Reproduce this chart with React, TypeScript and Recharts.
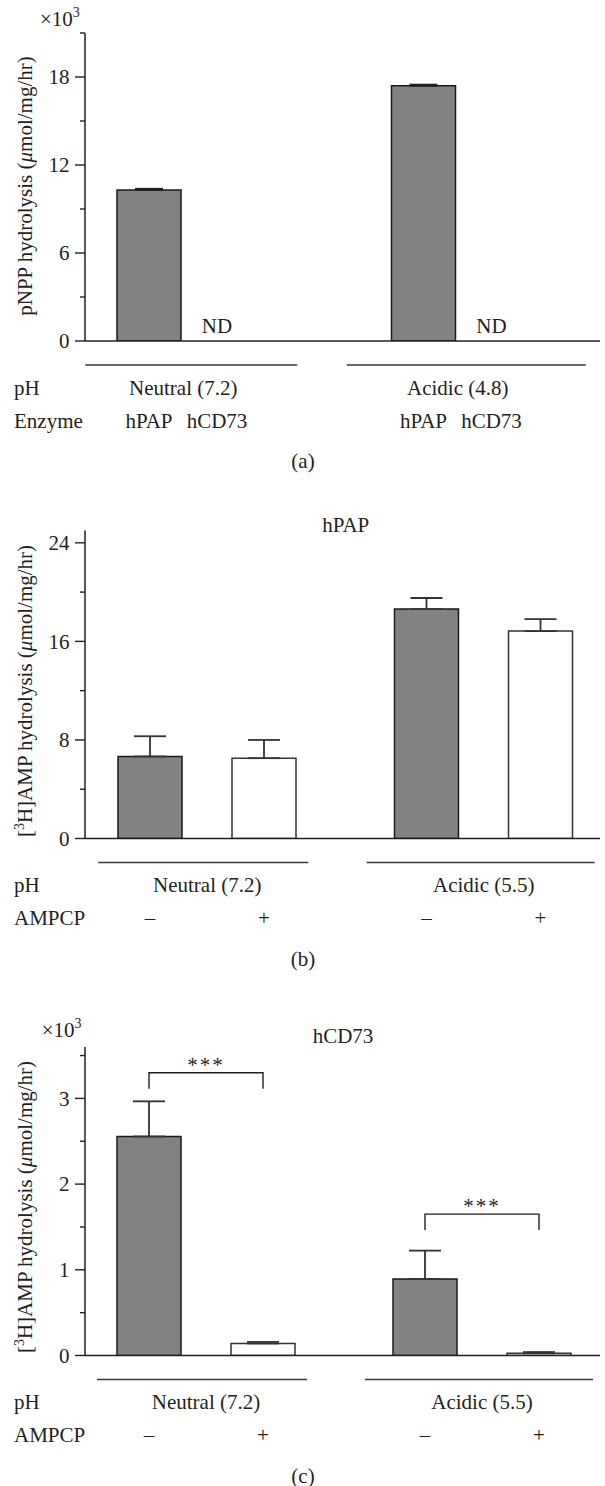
import { BarChart, Bar, XAxis, YAxis, ErrorBar, LabelList } from 'recharts'

const FONT = "'Liberation Serif', 'Times New Roman', serif"
const INK = '#231f20'
const GRAY = '#818281'
const FS = 21

// (a) pNPP hydrolysis (x10^3 umol/mg/hr)
const phA = ['Neutral (7.2)', 'Acidic (4.8)']
const hpapA = [10.3, 17.4]
const hpapErrA = [0.08, 0.08]
const hcd73A = [0, 0] // ND
const ticksA = [0, 3, 6, 9, 12, 15, 18, 21]

// (b) hPAP, [3H]AMP hydrolysis
const phB = ['Neutral (7.2)', 'Acidic (5.5)']
const noAmpcpB = [6.66, 18.62]
const noAmpcpErrB = [1.64, 0.9]
const ampcpB = [6.52, 16.84]
const ampcpErrB = [1.48, 0.97]
const ticksB = [0, 4, 8, 12, 16, 20, 24]

// (c) hCD73, [3H]AMP hydrolysis (x10^3)
const phC = ['Neutral (7.2)', 'Acidic (5.5)']
const noAmpcpC = [2.556, 0.894]
const noAmpcpErrC = [0.41, 0.33]
const ampcpC = [0.14, 0.026]
const ampcpErrC = [0.018, 0.014]
const sigBracketC = [3.3, 1.65]
const sigTextC = ['***', '***']
const ticksC = [0, 0.5, 1, 1.5, 2, 2.5, 3, 3.5]

const dataA = phA.map((ph, i) => ({
  ph,
  hpap: hpapA[i],
  hpapErr: [0, hpapErrA[i]],
  hcd73: hcd73A[i],
}))
const dataB = phB.map((ph, i) => ({
  ph,
  minus: noAmpcpB[i],
  minusErr: [0, noAmpcpErrB[i]],
  plus: ampcpB[i],
  plusErr: [0, ampcpErrB[i]],
}))
const dataC = phC.map((ph, i) => ({
  ph,
  minus: noAmpcpC[i],
  minusErr: [0, noAmpcpErrC[i]],
  plus: ampcpC[i],
  plusErr: [0, ampcpErrC[i]],
  sig: sigBracketC[i],
}))

// layout
const W = 605
const AXIS_X = 85
const LINE_DY = 24
const ROW1 = 53.5
const ROW2 = 86.5
const PANEL_A = { top: 0, height: 480, plotTop: 33, plotBottom: 341 }
const PANEL_B = { top: 490, height: 490, plotTop: 530.5, plotBottom: 838.5 }
const PANEL_C = { top: 990, height: 496, plotTop: 1047, plotBottom: 1355.5 }
const spansA = [[-98, 114], [-111, 128]]
const spansBC = [[-109, 101], [-117, 111]]

const textProps = { fontFamily: FONT, fontSize: FS, fill: INK }
const axisLine = { stroke: INK, strokeWidth: 1.5 }

function YTick(props: any) {
  const { y, payload, step } = props
  const major = Math.abs(payload.value % step) < 1e-9
  return (
    <g>
      <line x1={AXIS_X - (major ? 10 : 5)} x2={AXIS_X} y1={y} y2={y} stroke={INK} strokeWidth={1.4} />
      {major && (
        <text x={AXIS_X - 15.5} y={y} dy="0.34em" textAnchor="end" {...textProps}>
          {payload.value}
        </text>
      )}
    </g>
  )
}

function GroupTick(props: any) {
  const { x, y, payload, index, spans } = props
  const [l, r] = spans[index]
  return (
    <g>
      <line x1={x + l} x2={x + r} y1={y + LINE_DY} y2={y + LINE_DY} stroke="#3a3a3a" strokeWidth={1.3} />
      <text x={x} y={y + ROW1} textAnchor="middle" {...textProps}>
        {payload.value}
      </text>
    </g>
  )
}

// label under each bar (enzyme / AMPCP row), optional text just above the baseline
const underLabel = (text: string, onTop?: string) => (props: any) => {
  const vb = props.viewBox ?? props
  const cx = vb.x + vb.width / 2
  const base = vb.y + vb.height
  return (
    <g>
      {onTop && (
        <text x={cx} y={base - 8.5} textAnchor="middle" {...textProps}>
          {onTop}
        </text>
      )}
      <text x={cx} y={base + ROW2} textAnchor="middle" {...textProps}>
        {text}
      </text>
    </g>
  )
}

function SigBracket(props: any) {
  const { x, y, width, index } = props
  const drop = 16
  return (
    <g>
      <path
        d={`M${x},${y + drop}V${y}H${x + width}V${y + drop}`}
        fill="none"
        stroke={INK}
        strokeWidth={1.4}
      />
      <text x={x + width / 2} y={y - 1} textAnchor="middle" letterSpacing={2} {...textProps}>
        {sigTextC[index]}
      </text>
    </g>
  )
}

function panelMargin(p: typeof PANEL_A) {
  return { top: p.plotTop - p.top, right: W - 600, bottom: 0, left: 0 }
}

function ChartA() {
  const p = PANEL_A
  return (
    <BarChart width={W} height={p.height} data={dataA} margin={panelMargin(p)} barSize={64} barGap={4}>
      <XAxis
        dataKey="ph"
        height={p.top + p.height - p.plotBottom}
        padding={{ left: -39, right: 5 }}
        axisLine={axisLine}
        tickLine={false}
        tickSize={0}
        tickMargin={0}
        interval={0}
        tick={(t: any) => <GroupTick {...t} spans={spansA} />}
      />
      <YAxis
        width={AXIS_X}
        domain={[0, 21]}
        ticks={ticksA}
        interval={0}
        allowDataOverflow
        axisLine={axisLine}
        tickLine={false}
        tickSize={0}
        tickMargin={0}
        tick={(t: any) => <YTick {...t} step={6} />}
      />
      <Bar dataKey="hpap" fill={GRAY} stroke="#1a1a1a" strokeWidth={1.5} isAnimationActive={false}>
        <ErrorBar dataKey="hpapErr" width={14} stroke={INK} strokeWidth={1.8} direction="y" />
        <LabelList content={underLabel('hPAP')} />
      </Bar>
      <Bar dataKey="hcd73" fill="none" stroke="none" minPointSize={1} isAnimationActive={false}>
        <LabelList content={underLabel('hCD73', 'ND')} />
      </Bar>
    </BarChart>
  )
}

function AmpcpChart({ p, data, ticks, max, step, withSig }: any) {
  const pad = withSig ? { left: -17, right: -20 } : { left: -16, right: -22 }
  return (
    <BarChart width={W} height={p.height} data={data} margin={panelMargin(p)} barSize={64} barGap={50}>
      <XAxis
        dataKey="ph"
        height={p.top + p.height - p.plotBottom}
        padding={pad}
        axisLine={axisLine}
        tickLine={false}
        tickSize={0}
        tickMargin={0}
        interval={0}
        tick={(t: any) => <GroupTick {...t} spans={spansBC} />}
      />
      {withSig && <XAxis xAxisId="sig" dataKey="ph" hide padding={pad} />}
      <YAxis
        width={AXIS_X}
        domain={[0, max]}
        ticks={ticks}
        interval={0}
        allowDataOverflow
        axisLine={axisLine}
        tickLine={false}
        tickSize={0}
        tickMargin={0}
        tick={(t: any) => <YTick {...t} step={step} />}
      />
      <Bar dataKey="minus" fill={GRAY} stroke="#1a1a1a" strokeWidth={1.5} isAnimationActive={false}>
        <ErrorBar dataKey="minusErr" width={16} stroke="#333" strokeWidth={1.8} direction="y" />
        <LabelList content={underLabel('–')} />
      </Bar>
      <Bar dataKey="plus" fill="#ffffff" stroke="#333" strokeWidth={1.5} isAnimationActive={false}>
        <ErrorBar dataKey="plusErr" width={16} stroke="#333" strokeWidth={1.8} direction="y" />
        <LabelList content={underLabel('+')} />
      </Bar>
      {withSig && (
        <Bar
          xAxisId="sig"
          dataKey="sig"
          barSize={114}
          isAnimationActive={false}
          shape={(s: any) => <SigBracket {...s} />}
        />
      )}
    </BarChart>
  )
}

function YLabel({ cy, sup }: { cy: number; sup: boolean }) {
  const x = 32
  return (
    <text x={x} y={cy} textAnchor="middle" transform={`rotate(-90 ${x} ${cy})`} {...textProps}>
      {sup ? (
        <>
          [<tspan dy={-8} fontSize={14}>3</tspan>
          <tspan dy={8}>H]AMP hydrolysis (</tspan>
        </>
      ) : (
        'pNPP hydrolysis ('
      )}
      <tspan fontStyle="italic">μ</tspan>mol/mg/hr)
    </text>
  )
}

function Times10({ x, y }: { x: number; y: number }) {
  return (
    <text x={x} y={y} {...textProps}>
      ×10<tspan dy={-9} fontSize={14}>3</tspan>
    </text>
  )
}

function Overlay() {
  const rows = (p: typeof PANEL_A, second: string, letter: string) => (
    <g>
      <text x={14} y={p.plotBottom + ROW1} {...textProps}>pH</text>
      <text x={14} y={p.plotBottom + ROW2} {...textProps}>{second}</text>
      <text x={303} y={p.plotBottom + 127} textAnchor="middle" {...textProps}>{letter}</text>
    </g>
  )
  return (
    <svg width={W} height={1486} style={{ position: 'absolute', left: 0, top: 0, pointerEvents: 'none' }}>
      <Times10 x={40} y={26} />
      <YLabel cy={186} sup={false} />
      {rows(PANEL_A, 'Enzyme', '(a)')}

      <text x={345.7} y={532} textAnchor="middle" {...textProps}>hPAP</text>
      <YLabel cy={691} sup />
      {rows(PANEL_B, 'AMPCP', '(b)')}

      <Times10 x={41.7} y={1037} />
      <text x={343} y={1043} textAnchor="middle" {...textProps}>hCD73</text>
      <YLabel cy={1207} sup />
      {rows(PANEL_C, 'AMPCP', '(c)')}
    </svg>
  )
}

export default function App() {
  return (
    <div style={{ position: 'absolute', left: 0, top: 0, width: W, height: 1486, background: '#fff' }}>
      <div style={{ position: 'absolute', left: 0, top: PANEL_A.top }}>
        <ChartA />
      </div>
      <div style={{ position: 'absolute', left: 0, top: PANEL_B.top }}>
        <AmpcpChart p={PANEL_B} data={dataB} ticks={ticksB} max={25} step={8} />
      </div>
      <div style={{ position: 'absolute', left: 0, top: PANEL_C.top }}>
        <AmpcpChart p={PANEL_C} data={dataC} ticks={ticksC} max={3.6} step={1} withSig />
      </div>
      <Overlay />
    </div>
  )
}
